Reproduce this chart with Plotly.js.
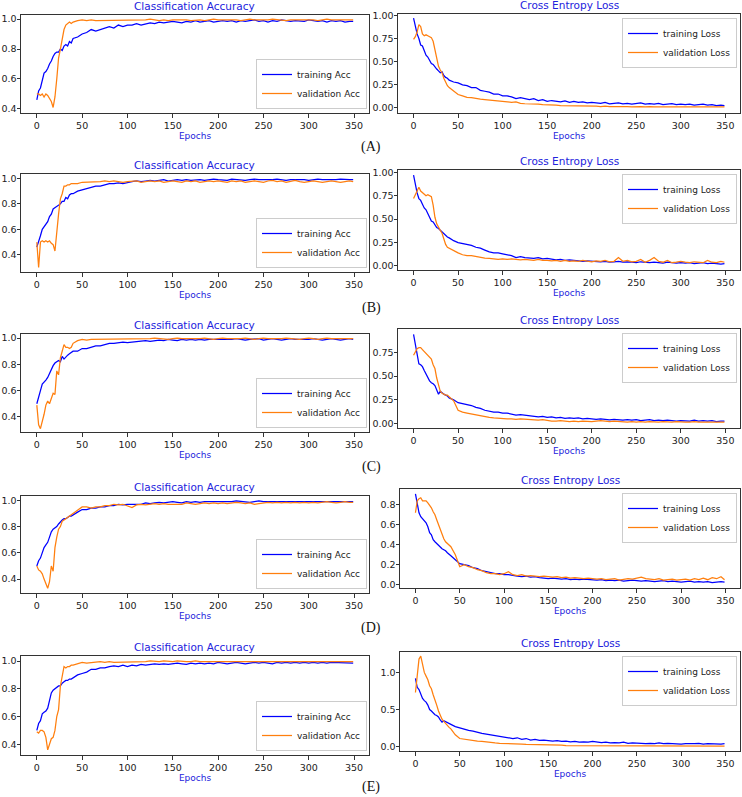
<!DOCTYPE html>
<html>
<head>
<meta charset="utf-8">
<script src="https://cdn.plot.ly/plotly-3.0.1.min.js"></script>
<style>html,body{margin:0;padding:0;background:#fff;}#chart{width:742px;height:797px;}</style>
</head>
<body>
<div id="chart"></div>
<script>
// ---------- DATA ----------
const epochs = [0,2,4,6,8,10,12,14,16,18,20,22,24,26,28,30,32,34,36,38,40,
  45,50,55,60,65,70,75,80,85,90,95,100,
  105,110,115,120,125,130,135,140,145,150,155,160,165,170,175,180,185,190,195,200,
  205,210,215,220,225,230,235,240,245,250,255,260,265,270,275,280,285,290,295,300,
  305,310,315,320,325,330,335,340,345,349];

const rowLabels = ['(A)','(B)','(C)','(D)','(E)'];

// (A)
const accTrainA = [0.46,0.52,0.54,0.60,0.64,0.65,0.67,0.70,0.72,0.75,0.77,0.78,0.78,0.80,0.79,0.82,0.83,0.82,0.85,0.84,0.87,
  0.88,0.90,0.91,0.93,0.92,0.93,0.94,0.95,0.94,0.96,0.95,0.96,
  0.96,0.97,0.96,0.97,0.975,0.97,0.98,0.975,0.98,0.985,0.98,0.975,0.985,0.98,0.99,0.98,0.985,0.99,0.98,0.985,
  0.99,0.985,0.99,0.98,0.99,0.985,0.99,0.995,0.985,0.99,0.98,0.99,0.985,0.995,0.99,0.985,0.99,0.99,0.985,0.995,
  0.99,0.985,0.99,0.98,0.99,0.985,0.99,0.98,0.985,0.985];
const accValA = [0.50,0.50,0.49,0.50,0.48,0.50,0.49,0.47,0.45,0.41,0.48,0.60,0.74,0.80,0.86,0.93,0.96,0.97,0.98,0.97,0.98,
  0.99,0.995,0.99,0.995,0.99,0.99,0.995,0.99,0.995,0.99,0.995,0.995,
  0.99,0.995,0.99,0.995,1.0,0.995,0.99,0.995,0.99,0.995,0.995,1.0,0.995,0.99,0.995,0.995,0.99,0.995,1.0,0.995,
  0.995,1.0,0.995,0.995,0.99,0.995,1.0,0.995,0.995,0.99,0.995,1.0,0.995,0.995,0.99,0.995,0.995,1.0,0.995,0.995,
  0.995,0.99,0.995,1.0,0.995,0.995,0.99,0.995,0.995,0.995];
const lossTrainA = [0.97,0.88,0.80,0.75,0.68,0.67,0.62,0.57,0.55,0.52,0.48,0.47,0.44,0.42,0.40,0.38,0.39,0.35,0.33,0.32,0.30,
  0.28,0.27,0.25,0.24,0.22,0.22,0.19,0.18,0.17,0.15,0.15,0.13,
  0.13,0.12,0.10,0.11,0.10,0.09,0.10,0.08,0.09,0.07,0.08,0.07,0.065,0.075,0.06,0.07,0.06,0.065,0.055,0.06,
  0.055,0.05,0.06,0.045,0.05,0.055,0.045,0.05,0.04,0.05,0.055,0.04,0.045,0.04,0.05,0.035,0.04,0.045,0.035,0.04,
  0.035,0.04,0.03,0.035,0.04,0.03,0.035,0.025,0.03,0.025];
const lossValA = [0.74,0.77,0.82,0.90,0.88,0.80,0.78,0.79,0.78,0.77,0.76,0.72,0.62,0.52,0.45,0.41,0.38,0.32,0.27,0.24,0.22,
  0.18,0.145,0.13,0.115,0.11,0.10,0.095,0.09,0.085,0.08,0.075,0.07,
  0.065,0.06,0.065,0.05,0.045,0.045,0.04,0.04,0.035,0.035,0.03,0.03,0.025,0.025,0.02,0.025,0.02,0.02,0.02,0.02,
  0.02,0.015,0.02,0.015,0.015,0.02,0.015,0.015,0.01,0.015,0.015,0.01,0.015,0.01,0.01,0.015,0.01,0.01,0.01,0.015,
  0.01,0.01,0.01,0.008,0.01,0.01,0.008,0.01,0.008,0.01];

// (B)
const accTrainB = [0.46,0.50,0.55,0.60,0.62,0.65,0.66,0.70,0.72,0.76,0.77,0.78,0.79,0.80,0.82,0.82,0.85,0.84,0.87,0.88,0.88,
  0.90,0.91,0.92,0.93,0.94,0.94,0.95,0.96,0.96,0.965,0.96,0.97,
  0.975,0.98,0.975,0.98,0.985,0.98,0.985,0.99,0.98,0.985,0.99,0.985,0.99,0.985,0.99,0.99,0.985,0.99,0.995,0.99,
  0.99,0.985,0.995,0.99,0.99,0.985,0.99,0.995,0.99,0.99,0.985,0.99,0.995,0.99,0.985,0.99,0.99,0.995,0.99,0.985,
  0.99,0.995,0.99,0.99,0.985,0.99,0.995,0.99,0.99,0.99];
const accValB = [0.50,0.30,0.50,0.51,0.50,0.51,0.50,0.51,0.49,0.48,0.43,0.60,0.72,0.84,0.88,0.94,0.94,0.95,0.95,0.96,0.96,
  0.96,0.97,0.97,0.975,0.97,0.975,0.98,0.975,0.98,0.975,0.97,0.975,
  0.975,0.98,0.97,0.975,0.98,0.975,0.98,0.97,0.975,0.98,0.975,0.97,0.98,0.975,0.98,0.97,0.975,0.98,0.975,0.98,
  0.975,0.97,0.98,0.975,0.98,0.97,0.975,0.98,0.975,0.97,0.98,0.985,0.975,0.98,0.97,0.975,0.985,0.975,0.97,0.975,
  0.98,0.975,0.97,0.975,0.98,0.975,0.97,0.975,0.98,0.975];
const lossTrainB = [0.97,0.85,0.78,0.72,0.70,0.66,0.62,0.60,0.56,0.52,0.48,0.47,0.44,0.41,0.40,0.38,0.37,0.35,0.33,0.31,0.30,
  0.27,0.25,0.24,0.23,0.22,0.20,0.19,0.17,0.15,0.14,0.14,0.13,
  0.12,0.11,0.09,0.10,0.09,0.085,0.08,0.09,0.075,0.08,0.07,0.065,0.07,0.06,0.065,0.06,0.055,0.05,0.055,0.05,
  0.05,0.045,0.05,0.04,0.045,0.05,0.04,0.045,0.04,0.035,0.045,0.04,0.035,0.04,0.035,0.03,0.04,0.035,0.03,0.035,
  0.03,0.035,0.025,0.03,0.035,0.025,0.03,0.025,0.02,0.025];
const lossValB = [0.72,0.76,0.80,0.84,0.80,0.78,0.76,0.75,0.76,0.75,0.74,0.65,0.52,0.45,0.41,0.38,0.35,0.28,0.23,0.20,0.19,
  0.16,0.14,0.12,0.11,0.11,0.10,0.09,0.085,0.08,0.075,0.07,0.075,
  0.07,0.075,0.07,0.065,0.07,0.065,0.06,0.07,0.06,0.06,0.055,0.06,0.05,0.06,0.05,0.055,0.05,0.06,0.05,0.045,
  0.055,0.05,0.06,0.045,0.05,0.09,0.05,0.06,0.045,0.05,0.07,0.04,0.06,0.09,0.05,0.04,0.06,0.035,0.04,0.05,
  0.04,0.035,0.045,0.04,0.035,0.06,0.04,0.035,0.05,0.04];

// (C)
const accTrainC = [0.50,0.56,0.60,0.65,0.67,0.68,0.70,0.73,0.77,0.79,0.81,0.82,0.83,0.82,0.86,0.84,0.86,0.87,0.88,0.89,0.90,
  0.90,0.92,0.92,0.93,0.94,0.94,0.95,0.96,0.96,0.965,0.97,0.965,
  0.97,0.97,0.975,0.98,0.975,0.98,0.985,0.98,0.99,0.985,0.98,0.99,0.985,0.99,0.985,0.99,0.985,0.99,0.99,0.985,
  0.99,0.985,0.99,0.995,0.99,0.985,0.99,0.99,0.995,0.985,0.99,0.995,0.99,0.985,0.99,0.995,0.99,0.99,0.985,0.99,
  0.995,0.99,0.985,0.99,0.995,0.99,0.985,0.99,0.995,0.99];
const accValC = [0.49,0.34,0.31,0.36,0.42,0.49,0.52,0.50,0.55,0.58,0.57,0.75,0.72,0.85,0.90,0.95,0.93,0.93,0.92,0.93,0.96,
  0.98,0.99,0.985,0.99,0.99,0.995,0.99,0.995,0.99,0.995,0.99,0.995,
  0.995,0.99,0.995,0.99,0.995,1.0,0.995,0.995,0.99,0.995,1.0,0.995,0.995,0.99,0.995,0.995,1.0,0.995,0.99,0.995,
  1.0,0.995,0.995,0.99,0.995,1.0,0.995,0.99,0.995,1.0,0.995,0.995,0.99,0.995,1.0,0.995,0.995,0.99,0.995,1.0,
  0.995,0.99,0.995,1.0,0.995,0.995,1.0,0.995,0.995,0.995];
const lossTrainC = [0.94,0.82,0.72,0.63,0.62,0.60,0.56,0.52,0.49,0.45,0.43,0.42,0.40,0.36,0.31,0.34,0.32,0.31,0.30,0.29,0.27,
  0.25,0.22,0.21,0.20,0.19,0.17,0.16,0.14,0.13,0.12,0.12,0.11,
  0.11,0.10,0.09,0.095,0.09,0.08,0.075,0.07,0.075,0.065,0.07,0.06,0.065,0.055,0.06,0.055,0.06,0.05,0.055,0.05,
  0.045,0.05,0.045,0.04,0.045,0.04,0.035,0.04,0.035,0.04,0.03,0.035,0.04,0.03,0.035,0.03,0.035,0.03,0.025,0.03,
  0.03,0.025,0.035,0.025,0.03,0.025,0.03,0.02,0.025,0.025];
const lossValC = [0.72,0.76,0.79,0.80,0.80,0.78,0.76,0.73,0.72,0.70,0.68,0.62,0.58,0.48,0.40,0.34,0.32,0.31,0.30,0.30,0.28,
  0.24,0.14,0.12,0.11,0.10,0.09,0.085,0.075,0.065,0.06,0.055,0.05,
  0.05,0.05,0.045,0.05,0.045,0.04,0.04,0.035,0.04,0.03,0.025,0.025,0.03,0.025,0.02,0.025,0.02,0.025,0.02,0.02,
  0.025,0.03,0.025,0.02,0.025,0.02,0.02,0.015,0.02,0.015,0.02,0.015,0.02,0.015,0.015,0.02,0.015,0.015,0.02,0.015,
  0.015,0.015,0.02,0.015,0.015,0.01,0.015,0.015,0.01,0.015];

// (D)
const accTrainD = [0.50,0.54,0.56,0.60,0.64,0.66,0.68,0.72,0.76,0.78,0.79,0.80,0.82,0.84,0.85,0.86,0.86,0.87,0.88,0.88,0.89,
  0.91,0.93,0.93,0.94,0.94,0.95,0.95,0.96,0.96,0.97,0.965,0.97,
  0.97,0.975,0.97,0.98,0.975,0.98,0.985,0.98,0.985,0.99,0.985,0.98,0.99,0.985,0.99,0.985,0.99,0.99,0.985,0.99,
  0.99,0.985,0.99,0.995,0.99,0.99,0.985,0.99,0.995,0.99,0.99,0.995,0.99,0.99,0.995,0.99,0.99,0.995,0.99,0.995,
  0.99,0.995,0.99,0.995,0.99,0.99,0.995,0.99,0.995,0.99];
const accValD = [0.50,0.47,0.46,0.44,0.40,0.37,0.33,0.38,0.50,0.46,0.64,0.72,0.78,0.80,0.84,0.85,0.86,0.87,0.88,0.89,0.90,
  0.92,0.95,0.95,0.94,0.95,0.95,0.96,0.96,0.97,0.965,0.97,0.96,
  0.945,0.965,0.97,0.965,0.97,0.975,0.97,0.975,0.97,0.97,0.975,0.97,0.98,0.975,0.97,0.975,0.98,0.975,0.98,0.975,
  0.98,0.975,0.98,0.985,0.98,0.975,0.98,0.97,0.975,0.98,0.985,0.98,0.985,0.98,0.985,0.98,0.985,0.98,0.985,0.98,
  0.985,0.98,0.985,0.99,0.985,0.98,0.985,0.99,0.985,0.985];
const lossTrainD = [0.91,0.80,0.72,0.68,0.66,0.65,0.62,0.58,0.52,0.50,0.45,0.43,0.41,0.40,0.37,0.36,0.35,0.34,0.32,0.30,0.29,
  0.25,0.21,0.20,0.19,0.17,0.16,0.14,0.13,0.12,0.11,0.11,0.10,
  0.10,0.09,0.085,0.08,0.085,0.075,0.08,0.07,0.065,0.06,0.065,0.06,0.055,0.06,0.05,0.055,0.05,0.055,0.05,0.05,
  0.045,0.05,0.04,0.045,0.04,0.045,0.035,0.04,0.045,0.04,0.035,0.04,0.035,0.03,0.035,0.04,0.03,0.035,0.03,0.025,
  0.03,0.035,0.025,0.03,0.025,0.03,0.02,0.025,0.03,0.025];
const lossValD = [0.72,0.84,0.86,0.87,0.84,0.84,0.84,0.82,0.80,0.77,0.73,0.70,0.65,0.60,0.56,0.50,0.46,0.43,0.41,0.40,0.38,
  0.30,0.18,0.20,0.18,0.17,0.15,0.14,0.12,0.11,0.11,0.10,0.11,
  0.13,0.10,0.09,0.10,0.085,0.09,0.085,0.08,0.085,0.08,0.075,0.08,0.07,0.075,0.065,0.07,0.065,0.06,0.065,0.06,
  0.055,0.06,0.05,0.055,0.06,0.045,0.05,0.06,0.055,0.065,0.075,0.06,0.055,0.05,0.06,0.045,0.05,0.055,0.045,0.05,
  0.055,0.045,0.06,0.05,0.065,0.05,0.07,0.06,0.08,0.05];

// (E)
const accTrainE = [0.50,0.55,0.57,0.62,0.63,0.64,0.66,0.72,0.77,0.79,0.80,0.81,0.82,0.82,0.84,0.85,0.86,0.86,0.87,0.87,0.88,
  0.90,0.91,0.92,0.94,0.94,0.95,0.95,0.96,0.965,0.96,0.97,0.96,
  0.97,0.965,0.975,0.97,0.975,0.98,0.975,0.98,0.975,0.98,0.985,0.98,0.975,0.985,0.98,0.985,0.98,0.985,0.98,0.99,
  0.985,0.98,0.985,0.99,0.985,0.98,0.985,0.99,0.985,0.99,0.985,0.98,0.99,0.985,0.99,0.985,0.99,0.985,0.99,0.985,
  0.99,0.985,0.99,0.985,0.99,0.99,0.985,0.99,0.985,0.985];
const accValE = [0.49,0.48,0.50,0.50,0.49,0.45,0.36,0.40,0.44,0.45,0.50,0.60,0.65,0.82,0.88,0.96,0.95,0.96,0.96,0.97,0.97,
  0.98,0.99,0.985,0.99,0.99,0.995,0.99,0.995,0.99,0.99,0.995,0.99,
  0.995,0.99,0.995,0.995,1.0,0.995,0.995,1.0,0.995,0.995,1.0,0.995,0.995,0.995,1.0,0.995,0.995,1.0,0.995,0.995,
  1.0,0.995,0.995,1.0,0.995,0.995,0.995,1.0,0.995,0.995,1.0,0.995,0.995,1.0,0.995,0.995,0.995,1.0,0.995,0.995,
  1.0,0.995,0.995,0.995,1.0,0.995,0.995,1.0,0.995,0.995];
const lossTrainE = [0.92,0.80,0.77,0.70,0.65,0.62,0.60,0.56,0.50,0.48,0.45,0.43,0.42,0.40,0.36,0.33,0.35,0.34,0.32,0.31,0.30,
  0.27,0.25,0.24,0.22,0.21,0.19,0.18,0.17,0.16,0.14,0.14,0.13,
  0.12,0.11,0.12,0.10,0.11,0.09,0.10,0.085,0.09,0.08,0.075,0.08,0.07,0.075,0.065,0.07,0.06,0.065,0.06,0.07,
  0.06,0.055,0.06,0.05,0.055,0.05,0.06,0.045,0.05,0.045,0.05,0.04,0.045,0.04,0.05,0.04,0.045,0.04,0.045,0.035,
  0.04,0.035,0.04,0.045,0.035,0.04,0.035,0.04,0.035,0.04];
const lossValE = [0.73,0.95,1.18,1.22,1.10,1.00,0.95,0.90,0.82,0.78,0.70,0.64,0.56,0.48,0.42,0.37,0.34,0.31,0.29,0.26,0.24,
  0.16,0.11,0.10,0.09,0.08,0.075,0.07,0.06,0.055,0.05,0.045,0.045,
  0.04,0.04,0.035,0.035,0.03,0.03,0.025,0.025,0.025,0.02,0.02,0.02,0.02,0.015,0.015,0.015,0.015,0.015,0.012,0.012,
  0.012,0.01,0.012,0.01,0.01,0.01,0.01,0.01,0.008,0.01,0.008,0.01,0.008,0.008,0.01,0.008,0.008,0.008,0.01,0.008,
  0.008,0.008,0.01,0.008,0.008,0.008,0.01,0.008,0.008,0.008];

// ---------- LAYOUT ----------
const W = 742, H = 797;
const FONT = 'DejaVu Sans, sans-serif';
const BLUE_TXT = '#2222dd';
const px2x = p => p / W;
const px2y = p => 1 - p / H;

const panels = [
  {kind:'acc',  tr:accTrainA,  va:accValA,  x:[21,369],  y:[15,113],  yr:[0.373,1.027]},
  {kind:'loss', tr:lossTrainA, va:lossValA, x:[398,740], y:[14,113],  yr:[-0.055,1.015]},
  {kind:'acc',  tr:accTrainB,  va:accValB,  x:[21,369],  y:[174,272], yr:[0.265,1.035]},
  {kind:'loss', tr:lossTrainB, va:lossValB, x:[398,740], y:[170,270], yr:[-0.043,1.025]},
  {kind:'acc',  tr:accTrainC,  va:accValC,  x:[21,369],  y:[334,432], yr:[0.285,1.031]},
  {kind:'loss', tr:lossTrainC, va:lossValC, x:[398,740], y:[329,428], yr:[-0.047,0.997]},
  {kind:'acc',  tr:accTrainD,  va:accValD,  x:[21,369],  y:[496,593], yr:[0.294,1.033]},
  {kind:'loss', tr:lossTrainD, va:lossValD, x:[400,740], y:[489,588], yr:[-0.033,0.958]},
  {kind:'acc',  tr:accTrainE,  va:accValE,  x:[21,369],  y:[656,755], yr:[0.323,1.036]},
  {kind:'loss', tr:lossTrainE, va:lossValE, x:[400,740], y:[652,751], yr:[-0.058,1.275]}
];
const lossTicks = [
  null,
  {v:[0,0.25,0.5,0.75,1.0], f:'.2f'}, null,
  {v:[0,0.25,0.5,0.75,1.0], f:'.2f'}, null,
  {v:[0,0.25,0.5,0.75,1.0], f:'.2f'}, null,
  {v:[0,0.2,0.4,0.6,0.8], f:'.1f'}, null,
  {v:[0,0.5,1.0], f:'.1f'}
];
const rowLabelY = [147, 308, 467, 628, 787];

const traces = [];
const layout = {
  width: W, height: H,
  margin: {l:0, r:0, t:0, b:0},
  paper_bgcolor: '#fff', plot_bgcolor: '#fff',
  font: {family: FONT, size: 9.5, color: '#222'},
  showlegend: true,
  annotations: [],
};

panels.forEach((p, i) => {
  const n = i + 1;
  const sfx = n === 1 ? '' : String(n);
  const isAcc = p.kind === 'acc';
  const legName = 'legend' + sfx;
  traces.push({
    x: epochs, y: p.tr, type: 'scatter', mode: 'lines',
    name: isAcc ? 'training Acc' : 'training Loss',
    line: {color: '#0000ff', width: 1.25},
    xaxis: 'x' + sfx, yaxis: 'y' + sfx, legend: legName
  });
  traces.push({
    x: epochs, y: p.va, type: 'scatter', mode: 'lines',
    name: isAcc ? 'validation Acc' : 'validation Loss',
    line: {color: '#ff7f0e', width: 1.25},
    xaxis: 'x' + sfx, yaxis: 'y' + sfx, legend: legName
  });
  const axCommon = {
    showgrid: false, zeroline: false, showline: true, mirror: true,
    linecolor: '#333', linewidth: 1, ticks: 'outside', ticklen: 3.5,
    tickcolor: '#333', tickwidth: 1, automargin: false,
    tickfont: {family: FONT, size: 9.5, color: '#222'}
  };
  layout['xaxis' + sfx] = Object.assign({}, axCommon, {
    domain: [px2x(p.x[0]), px2x(p.x[1])],
    anchor: 'y' + sfx,
    range: [-17.45, 366.45],
    tickvals: [0,50,100,150,200,250,300,350],
    title: {text: 'Epochs', font: {family: FONT, size: 9, color: BLUE_TXT}, standoff: 2}
  });
  const yt = isAcc ? {v:[0.4,0.6,0.8,1.0], f:'.1f'} : lossTicks[i];
  layout['yaxis' + sfx] = Object.assign({}, axCommon, {
    domain: [px2y(p.y[1]), px2y(p.y[0])],
    anchor: 'x' + sfx,
    range: p.yr,
    tickvals: yt.v, tickformat: yt.f,
    ticklabelstandoff: -2
  });
  layout[legName] = isAcc ? {
    x: px2x(p.x[1] - 2), xanchor: 'right',
    y: px2y(p.y[1] - 4), yanchor: 'bottom'
  } : {
    x: px2x(p.x[1] - 3), xanchor: 'right',
    y: px2y(p.y[0] + 4), yanchor: 'top'
  };
  Object.assign(layout[legName], {
    bgcolor: 'rgba(255,255,255,0.85)', bordercolor: '#cccccc', borderwidth: 1,
    font: {family: FONT, size: 9, color: '#222'}, itemwidth: 30,
    tracegroupgap: 0
  });
  // subplot title
  layout.annotations.push({
    text: isAcc ? 'Classification Accuracy' : 'Cross Entropy Loss',
    xref: 'paper', yref: 'paper',
    x: px2x((p.x[0] + p.x[1]) / 2), y: px2y(p.y[0]),
    xanchor: 'center', yanchor: 'bottom', yshift: 1, showarrow: false,
    font: {family: FONT, size: 10.5, color: BLUE_TXT}
  });
});

rowLabels.forEach((t, r) => {
  layout.annotations.push({
    text: t, xref: 'paper', yref: 'paper',
    x: 0.5, y: px2y(rowLabelY[r]), xanchor: 'center', yanchor: 'middle',
    showarrow: false,
    font: {family: 'Liberation Serif, Times New Roman, serif', size: 14, color: '#111'}
  });
});

Plotly.newPlot('chart', traces, layout, {displayModeBar: false, staticPlot: true});
</script>
</body>
</html>
